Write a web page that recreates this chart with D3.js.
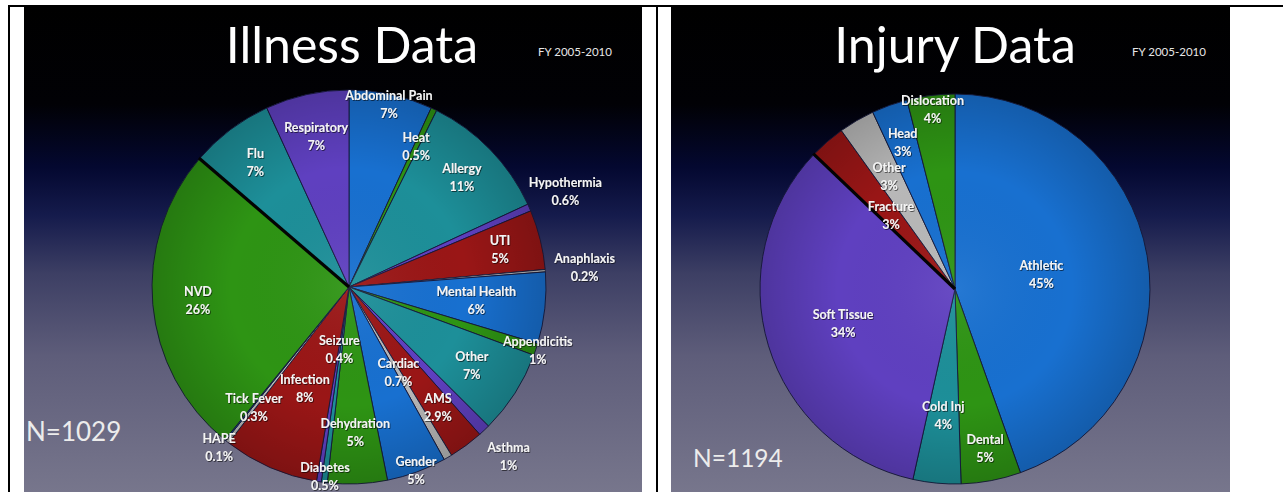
<!DOCTYPE html>
<html>
<head>
<meta charset="utf-8">
<script src="https://cdn.jsdelivr.net/npm/d3@7"></script>
<style>
  html, body { margin: 0; padding: 0; background: #ffffff; }
  svg { display: block; }
</style>
</head>
<body>
<div id="chart"></div>
<script>
// ---------- DATA ----------
const illnessCategories = ["Abdominal Pain","Heat","Allergy","Hypothermia","UTI","Anaphlaxis","Mental Health","Appendicitis","Other","Asthma","AMS","Cardiac","Gender","Dehydration","Diabetes","Seizure","Infection","Tick Fever","HAPE","NVD","Flu","Respiratory"];
const illnessValues = [7,0.5,11,0.6,5,0.2,6,1,7,1,2.9,0.7,5,5,0.5,0.4,8,0.3,0.1,26,7,7];
const illnessTitle = "Illness Data";
const illnessN = "N=1029";

const injuryCategories = ["Athletic","Dental","Cold Inj","Soft Tissue","Fracture","Other","Head","Dislocation"];
const injuryValues = [45,5,4,34,3,3,3,4];
const injuryTitle = "Injury Data";
const injuryN = "N=1194";

const periodLabel = "FY 2005-2010";

// ---------- LAYOUT / STYLE ----------
const W = 1283, H = 492;
const palette = ["#1870d0","#2e9414","#1d8f99","#5f40c0","#9a1616","#b8b8b8"];
// label radius as fraction of pie radius (layout only)
const illnessLabelR = [0.95,0.79,0.80,1.20,0.79,1.20,0.65,1.01,0.74,1.18,0.76,0.50,0.99,0.74,0.97,0.32,0.56,0.78,1.05,0.77,0.79,0.78];
const injuryLabelR = [0.45,0.83,0.65,0.60,0.50,0.67,0.80,0.93];

const panels = [
  {x0:24, x1:642, title:illnessTitle, n:illnessN, cats:illnessCategories, vals:illnessValues, lr:illnessLabelR,
   cx:349, cy:287, r:197, titleX:352, fyX:575, nX:26, nY:441, nSize:26, gap:"NVD"},
  {x0:671, x1:1230, title:injuryTitle, n:injuryN, cats:injuryCategories, vals:injuryValues, lr:injuryLabelR,
   cx:955, cy:289, r:195, titleX:955, fyX:1169, nX:693, nY:467, nSize:24.5, gap:"Soft Tissue"}
];

const svg = d3.select("#chart").append("svg").attr("width", W).attr("height", H);
const defs = svg.append("defs");

const bg = defs.append("linearGradient").attr("id","bgGrad").attr("x1",0).attr("y1",0).attr("x2",0).attr("y2",1);
[[0,"#000000"],[0.2,"#010105"],[0.33,"#040830"],[0.43,"#151b4c"],[0.55,"#3d3f64"],[0.72,"#5e5d7a"],[1,"#77768c"]]
  .forEach(([o,c]) => bg.append("stop").attr("offset", o).attr("stop-color", c));

const shade = defs.append("radialGradient").attr("id","shade");
shade.append("stop").attr("offset",0).attr("stop-color","#ffffff").attr("stop-opacity",0.06);
shade.append("stop").attr("offset",0.6).attr("stop-color","#000000").attr("stop-opacity",0);
shade.append("stop").attr("offset",1).attr("stop-color","#000000").attr("stop-opacity",0.18);

const f = defs.append("filter").attr("id","tshadow").attr("x","-20%").attr("y","-20%").attr("width","140%").attr("height","140%");
f.append("feDropShadow").attr("dx",0.8).attr("dy",0.8).attr("stdDeviation",0.6).attr("flood-color","#000").attr("flood-opacity",0.7);

// white page frame lines
svg.append("rect").attr("x",8).attr("y",5).attr("width",W-8).attr("height",2).attr("fill","#000");
svg.append("rect").attr("x",8).attr("y",5).attr("width",2).attr("height",H-5).attr("fill","#000");
svg.append("rect").attr("x",656).attr("y",5).attr("width",2).attr("height",H-5).attr("fill","#000");

panels.forEach(p => {
  const g = svg.append("g");
  g.append("rect").attr("x",p.x0).attr("y",7).attr("width",p.x1-p.x0).attr("height",H-7).attr("fill","url(#bgGrad)");

  const clipId = "clip" + p.x0;
  defs.append("clipPath").attr("id",clipId).append("rect").attr("x",p.x0).attr("y",7).attr("width",p.x1-p.x0).attr("height",H-7);
  const pg = g.append("g").attr("clip-path",`url(#${clipId})`);

  pg.append("text").attr("x",p.titleX).attr("y",63).attr("text-anchor","middle")
    .attr("font-family","Lato, 'Open Sans', sans-serif").attr("font-size",50).attr("fill","#ffffff").text(p.title);
  pg.append("text").attr("x",p.fyX).attr("y",56).attr("text-anchor","middle")
    .attr("font-family","Lato, sans-serif").attr("font-size",11.5).attr("fill","#e6e6e6").text(periodLabel);

  const data = d3.pie().sort(null).value(d => d.v)(p.vals.map((v,i) => ({v, c:p.cats[i], i})));
  const arc = d3.arc().innerRadius(0).outerRadius(p.r);
  const pie = pg.append("g").attr("transform",`translate(${p.cx},${p.cy})`);
  pie.selectAll("path.slice").data(data).join("path").attr("class","slice")
    .attr("d", arc)
    .attr("fill", d => palette[d.index % palette.length])
    .attr("stroke", "#16183a")
    .attr("stroke-width", 0.9)
    .attr("stroke-linejoin","round");
  pie.append("circle").attr("r",p.r).attr("fill","url(#shade)").attr("pointer-events","none");

  // dark gap line along the end edge of the marked slice
  const gd = data.find(d => d.data.c === p.gap);
  pie.append("line").attr("x1",0).attr("y1",0)
    .attr("x2", Math.sin(gd.endAngle) * (p.r + 1))
    .attr("y2", -Math.cos(gd.endAngle) * (p.r + 1))
    .attr("stroke","#030303").attr("stroke-width",3.2).attr("stroke-linecap","butt");

  const lab = pie.selectAll("g.lab").data(data).join("g").attr("class","lab")
    .attr("transform", d => {
      const rr = p.r * p.lr[d.index];
      const c = d3.arc().innerRadius(rr).outerRadius(rr).centroid(d);
      return `translate(${c[0]},${c[1]})`;
    })
    .attr("filter","url(#tshadow)");
  lab.append("text").attr("y",-4.5).attr("text-anchor","middle")
    .attr("font-family","Lato, sans-serif").attr("font-weight","bold").attr("font-size",12.5).attr("fill","#f4f4f4")
    .text(d => d.data.c);
  lab.append("text").attr("y",13.5).attr("text-anchor","middle")
    .attr("font-family","Lato, sans-serif").attr("font-weight","bold").attr("font-size",12.5).attr("fill","#f4f4f4")
    .text(d => d.data.v + "%");

  pg.append("text").attr("x",p.nX).attr("y",p.nY)
    .attr("font-family","Lato, sans-serif").attr("font-size",p.nSize).attr("fill","#ececec").text(p.n);
});
</script>
</body>
</html>
